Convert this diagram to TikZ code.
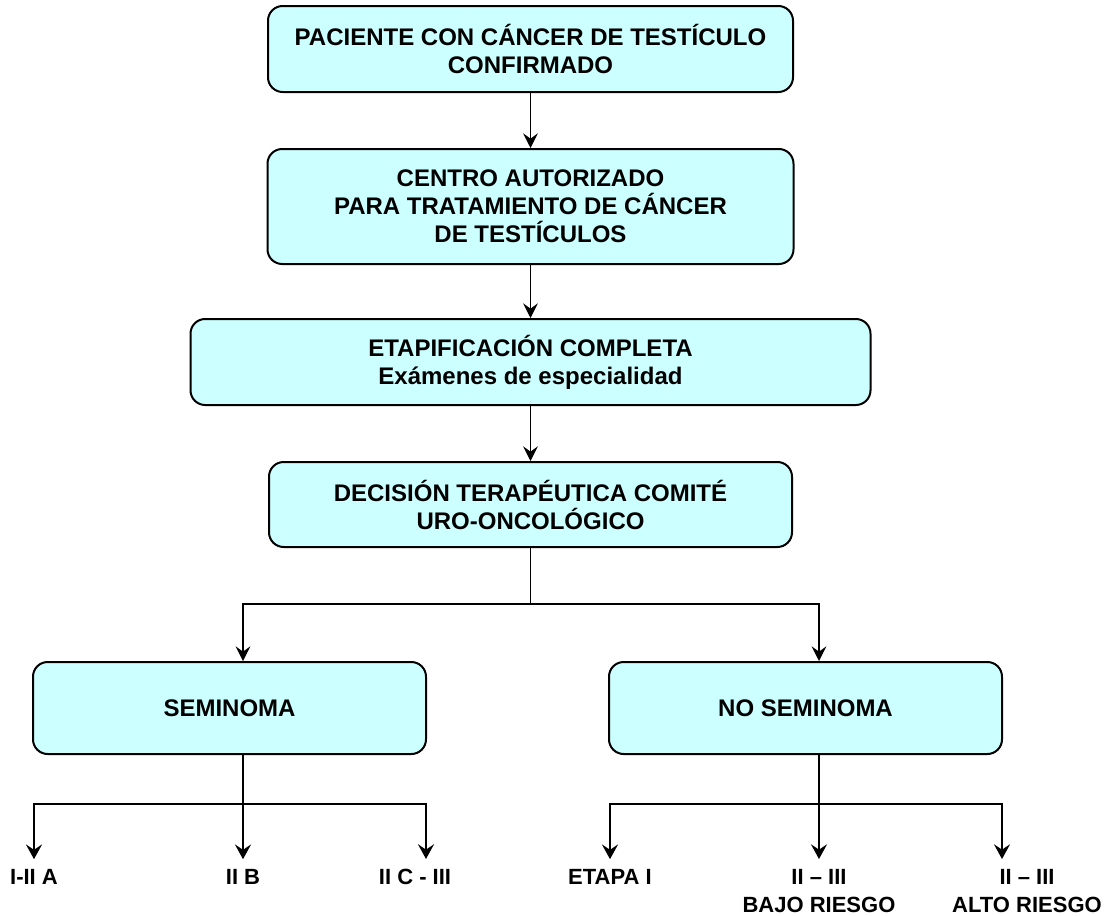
\documentclass[tikz,border=0pt]{standalone}
\usepackage{fontspec}
\setmainfont{Liberation Sans}
\usetikzlibrary{arrows.meta}
\definecolor{boxfill}{HTML}{CCFFFF}
\begin{document}
\begin{tikzpicture}[x=0.75pt,y=-0.75pt,
 box/.style={draw=black, line width=1.5pt, fill=boxfill, rounded corners=11pt, align=center,
   font=\fontsize{18}{21}\selectfont\bfseries, inner sep=0pt},
 arr/.style={line width=1pt, -{Stealth[length=11pt,width=11pt,inset=4pt]}},
 arrb/.style={line width=1.5pt, -{Stealth[length=11pt,width=12pt,inset=4pt]}},
 lbl/.style={font=\fontsize{16.5}{21}\selectfont\bfseries, align=center, inner xsep=0pt, inner ysep=7.5pt}]
\useasboundingbox (0,0) rectangle (1110,915);

\node[box, minimum width=393.75pt, minimum height=64.5pt] (b1) at (530.5,49)
  {PACIENTE CON CÁNCER DE TESTÍCULO\\CONFIRMADO};
\node[box, minimum width=394.5pt, minimum height=86.25pt] (b2) at (530.5,206.5)
  {CENTRO AUTORIZADO\\PARA TRATAMIENTO DE CÁNCER\\DE TESTÍCULOS};
\node[box, minimum width=510pt, minimum height=64.5pt] (b3) at (530.5,362)
  {ETAPIFICACIÓN COMPLETA\\Exámenes de especialidad};
\node[box, minimum width=392.25pt, minimum height=63.75pt] (b4) at (530.5,504.5)
  {DECISIÓN TERAPÉUTICA COMITÉ\\URO-ONCOLÓGICO};
\node[box, minimum width=294.75pt, minimum height=69pt] (sem) at (229.5,708) {SEMINOMA};
\node[box, minimum width=294.75pt, minimum height=69pt] (nos) at (805.5,708) {NO SEMINOMA};

\node[lbl] (l1) at (34,877) {I-II A};
\node[lbl] (l2) at (243,877) {II B};
\node[lbl] (l3) at (415,877) {II C - III};
\node[lbl] (r1) at (610,877) {ETAPA I};
\node[lbl, anchor=north] (r2) at (819,859) {II – III\\BAJO RIESGO};
\node[lbl, anchor=north] (r3) at (1027,859) {II – III\\ALTO RIESGO};

\draw[arr] (b1) -- (b2);
\draw[arr] (b2) -- (b3);
\draw[arr] (b3) -- (b4);

\coordinate (jL) at (243,604);
\coordinate (jR) at (819,604);
\draw[arr] (b4.south) |- (jL) -- (jL |- sem.north);
\draw[arr] (b4.south) |- (jR) -- (jR |- nos.north);

\coordinate (kL) at (243,804);
\coordinate (xL) at (426,804);
\draw[arrb] (sem.south -| kL) -- (l2.north);
\draw[arrb] (kL) -| (l1.north);
\draw[arrb] (kL) -- (xL) -- (xL |- l3.north);

\coordinate (kR) at (819,804);
\coordinate (xR) at (1002,804);
\draw[arrb] (nos.south -| kR) -- (r2.north);
\draw[arrb] (kR) -| (r1.north);
\draw[arrb] (kR) -- (xR) -- (xR |- r3.north);
\end{tikzpicture}
\end{document}
